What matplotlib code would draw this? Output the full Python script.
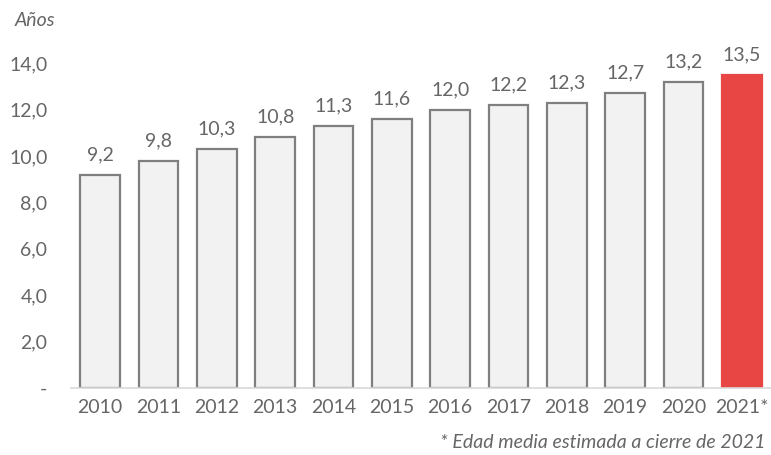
import matplotlib.pyplot as plt
from matplotlib.ticker import FixedLocator

anios = ['2010', '2011', '2012', '2013', '2014', '2015', '2016', '2017', '2018', '2019', '2020', '2021*']
edad = [9.2, 9.8, 10.3, 10.8, 11.3, 11.6, 12.0, 12.2, 12.3, 12.7, 13.2, 13.5]
yticks = [0, 2, 4, 6, 8, 10, 12, 14]
ytick_labels = ['-', '2,0', '4,0', '6,0', '8,0', '10,0', '12,0', '14,0']

plt.rcParams['font.family'] = ['Lato', 'DejaVu Sans']
gris = '#666666'

fig = plt.figure(figsize=(7.71, 4.55), dpi=100)
ax = fig.add_axes([71/771, 67/455, 700/771, 348/455])

x = list(range(len(anios)))
colores = ['#f2f2f2'] * (len(anios) - 1) + ['#e84545']
bordes = ['#7f7f7f'] * (len(anios) - 1) + ['#e84545']
ax.bar(x, edad, width=0.68, color=colores, edgecolor=bordes, linewidth=1.6)

for xi, v in zip(x, edad):
    ax.text(xi, v + 0.5, f'{v:.1f}'.replace('.', ','), ha='center', va='bottom',
            fontsize=14, color=gris)

ax.set_xlim(-0.5, len(anios) - 0.5)
ax.set_ylim(0, 15)
ax.yaxis.set_major_locator(FixedLocator(yticks))
ax.set_yticklabels(ytick_labels, fontsize=14, color=gris)
ax.set_xticks(x)
ax.set_xticklabels(anios, fontsize=14, color=gris)
ax.tick_params(length=0, pad=8)
ax.tick_params(axis='y', pad=17)

for s in ['top', 'right', 'left']:
    ax.spines[s].set_visible(False)
ax.spines['bottom'].set_color('#d9d9d9')
ax.spines['bottom'].set_linewidth(1.2)

fig.text(15/771, 1 - 20/455, 'Años', fontsize=14, color=gris, style='italic', va='center')
fig.text(765/771, 1 - 442/455, '* Edad media estimada a cierre de 2021', fontsize=14,
         color=gris, style='italic', ha='right', va='center')

fig.savefig('out.png', dpi=100)
